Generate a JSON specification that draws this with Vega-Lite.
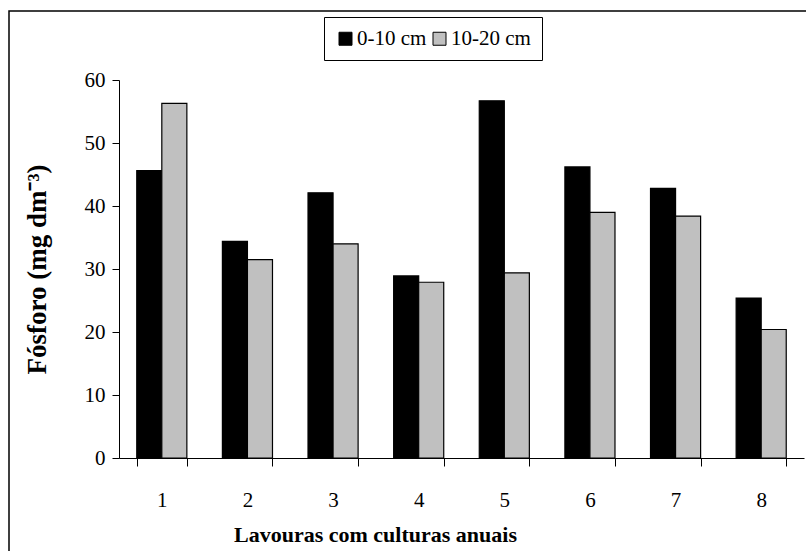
{
  "$schema": "https://vega.github.io/schema/vega-lite/v6.json",
  "width": 800,
  "height": 545,
  "autosize": "none",
  "padding": {"left": 9, "top": 11, "right": 0, "bottom": 0},
  "background": "white",
  "config": {
    "view": {"stroke": "black", "strokeWidth": 1.5},
    "font": "Liberation Serif",
    "axis": {"labelFont": "Liberation Serif", "titleFont": "Liberation Serif"},
    "legend": {"labelFont": "Liberation Serif", "titleFont": "Liberation Serif"}
  },
  "data": {
    "values": [
      {"lavoura": 1, "camada": "0-10 cm", "fosforo": 45.6},
      {"lavoura": 1, "camada": "10-20 cm", "fosforo": 56.3},
      {"lavoura": 2, "camada": "0-10 cm", "fosforo": 34.4},
      {"lavoura": 2, "camada": "10-20 cm", "fosforo": 31.5},
      {"lavoura": 3, "camada": "0-10 cm", "fosforo": 42.1},
      {"lavoura": 3, "camada": "10-20 cm", "fosforo": 34.0},
      {"lavoura": 4, "camada": "0-10 cm", "fosforo": 28.9},
      {"lavoura": 4, "camada": "10-20 cm", "fosforo": 27.9},
      {"lavoura": 5, "camada": "0-10 cm", "fosforo": 56.7},
      {"lavoura": 5, "camada": "10-20 cm", "fosforo": 29.4},
      {"lavoura": 6, "camada": "0-10 cm", "fosforo": 46.2},
      {"lavoura": 6, "camada": "10-20 cm", "fosforo": 39.0},
      {"lavoura": 7, "camada": "0-10 cm", "fosforo": 42.8},
      {"lavoura": 7, "camada": "10-20 cm", "fosforo": 38.4},
      {"lavoura": 8, "camada": "0-10 cm", "fosforo": 25.4},
      {"lavoura": 8, "camada": "10-20 cm", "fosforo": 20.4}
    ]
  },
  "mark": {"type": "bar", "stroke": "black", "strokeWidth": 1.2},
  "encoding": {
    "x": {
      "field": "lavoura",
      "type": "ordinal",
      "scale": {"range": [110, 795], "paddingInner": 0.415, "paddingOuter": 0.2075},
      "axis": {
        "title": "Lavouras com culturas anuais",
        "titleFontSize": 22,
        "titleFontWeight": "bold",
        "titlePadding": 14,
        "titleX": 366,
        "titleColor": "black",
        "labelFontSize": 21,
        "labelAngle": 0,
        "labelPadding": 23,
        "labelColor": "black",
        "tickBand": "extent",
        "tickSize": 8,
        "tickColor": "black",
        "domainColor": "black",
        "offset": -98,
        "grid": false
      }
    },
    "xOffset": {
      "field": "camada",
      "type": "nominal",
      "sort": ["0-10 cm", "10-20 cm"],
      "scale": {"paddingInner": 0, "paddingOuter": 0}
    },
    "y": {
      "field": "fosforo",
      "type": "quantitative",
      "scale": {"domain": [0, 60], "range": [447, 69], "nice": false},
      "axis": {
        "title": "Fósforo (mg dm⁻³)",
        "values": [0, 10, 20, 30, 40, 50, 60],
        "titleFontSize": 27,
        "titleFontWeight": "bold",
        "titlePadding": 33,
        "titleColor": "black",
        "labelFontSize": 21,
        "labelPadding": 7,
        "labelColor": "black",
        "tickSize": 7,
        "tickColor": "black",
        "domainColor": "black",
        "offset": -110,
        "grid": false
      }
    },
    "color": {
      "field": "camada",
      "type": "nominal",
      "scale": {"domain": ["0-10 cm", "10-20 cm"], "range": ["#000000", "#c0c0c0"]},
      "legend": {
        "title": null,
        "orient": "none",
        "legendX": 315,
        "legendY": 6,
        "direction": "horizontal",
        "strokeColor": "black",
        "padding": 11,
        "symbolType": "square",
        "symbolSize": 169,
        "symbolStrokeColor": "black",
        "symbolStrokeWidth": 1,
        "symbolOpacity": 1,
        "labelFontSize": 21,
        "labelColor": "black",
        "labelOffset": 1,
        "columnPadding": 2
      }
    }
  }
}
